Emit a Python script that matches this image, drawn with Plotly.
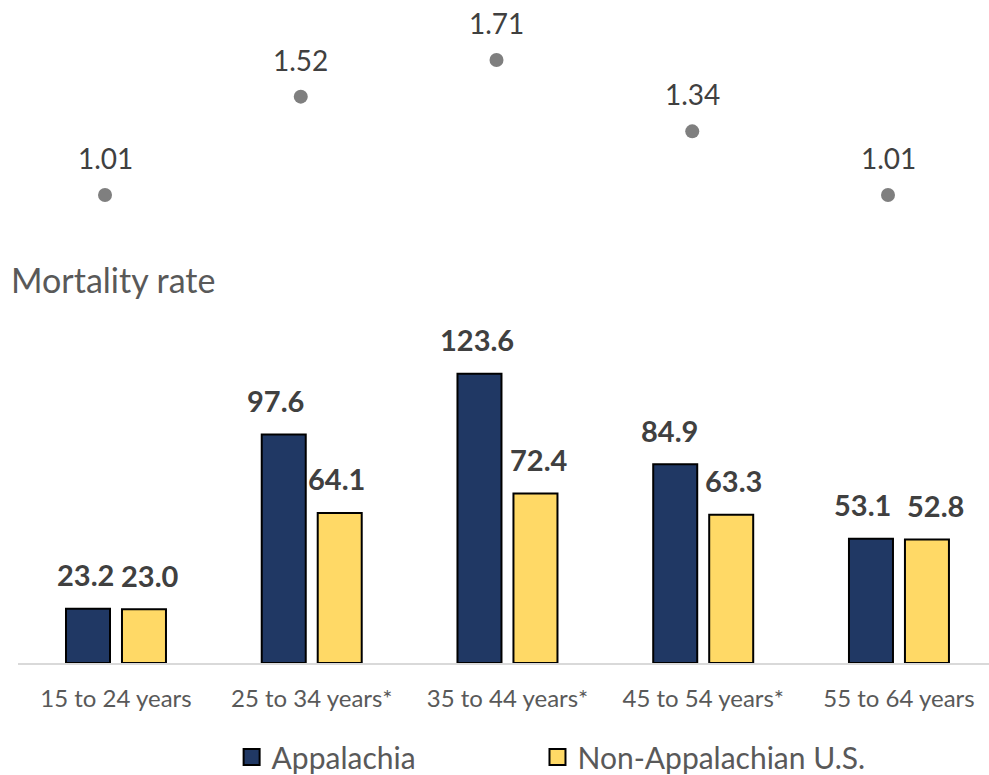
import plotly.graph_objects as go

# Age groups (asterisk marks a significant difference)
categories = ["15 to 24 years", "25 to 34 years*", "35 to 44 years*",
              "45 to 54 years*", "55 to 64 years"]

# Mortality rates per 100,000
appalachia = [23.2, 97.6, 123.6, 84.9, 53.1]
non_appalachia = [23.0, 64.1, 72.4, 63.3, 52.8]

# Rate ratio, Appalachia vs. non-Appalachian U.S.
ratios = [1.01, 1.52, 1.71, 1.34, 1.01]

# Horizontal pixel nudges for the value labels, so neighbours don't collide
nudge_app = [-2, -8, -2, -6, -8]
nudge_non = [6, -3, 4, 2, 9]

NAVY = "#203864"
GOLD = "#FFD966"
GRAY_TXT = "#595959"
DARK_TXT = "#404040"
FONT = "Lato, 'Open Sans', sans-serif"

W, H = 989, 775
X_RANGE = [-0.5006, 4.46]
BAR_OFFSET = 28  # px from category centre to each bar centre

fig = go.Figure()

series = [("Appalachia", appalachia, NAVY, "legend"),
          ("Non-Appalachian U.S.", non_appalachia, GOLD, "legend2")]
for name, vals, color, _ in series:
    fig.add_trace(go.Bar(
        name=name, x=categories, y=vals,
        marker=dict(color=color, line=dict(color="#000000", width=2)),
        xaxis="x", yaxis="y", showlegend=False,
    ))

# Legend entries with a larger square swatch
for name, vals, color, leg in series:
    fig.add_trace(go.Scatter(
        name=name, x=[None], y=[None], mode="markers",
        marker=dict(symbol="square", size=16, color=color,
                    line=dict(color="#000000", width=2)),
        xaxis="x", yaxis="y", showlegend=True, legend=leg,
    ))

# Rate ratio dots in the upper panel
fig.add_trace(go.Scatter(
    x=categories, y=ratios, mode="markers",
    marker=dict(color="#7F7F7F", size=14),
    showlegend=False, hoverinfo="skip",
    xaxis="x2", yaxis="y2",
))

annotations = []
# Bar value labels
for cat, a, n, da, dn in zip(categories, appalachia, non_appalachia, nudge_app, nudge_non):
    for val, shift in ((a, -BAR_OFFSET + da), (n, BAR_OFFSET + dn)):
        annotations.append(dict(
            x=cat, y=val, xref="x", yref="y", text=f"<b>{val:.1f}</b>",
            showarrow=False, xshift=shift, yshift=34, yanchor="middle",
            font=dict(family=FONT, size=29, color=DARK_TXT),
        ))
# Ratio labels
for cat, r in zip(categories, ratios):
    annotations.append(dict(
        x=cat, y=r, xref="x2", yref="y2", text=f"{r:.2f}",
        showarrow=False, yshift=37, yanchor="middle",
        font=dict(family=FONT, size=28, color=DARK_TXT),
    ))
# Panel title
annotations.append(dict(
    x=-9 / 971, y=(H - 279) / H, xref="paper", yref="paper",
    text="Mortality rate", showarrow=False, xanchor="left", yanchor="middle",
    font=dict(family=FONT, size=34, color=GRAY_TXT),
))

legend_style = dict(
    orientation="h", xanchor="left", y=(H - 757) / H, yanchor="middle",
    font=dict(family=FONT, size=30, color=GRAY_TXT),
    bgcolor="rgba(0,0,0,0)", itemsizing="trace",
)

fig.update_layout(
    width=W, height=H,
    margin=dict(l=18, r=0, t=0, b=0, autoexpand=False),
    paper_bgcolor="white", plot_bgcolor="white",
    barmode="group", bargap=0.428, bargroupgap=0.214,
    font=dict(family=FONT, color=GRAY_TXT),
    xaxis=dict(
        type="category", range=X_RANGE, anchor="y",
        showline=True, linecolor="#D9D9D9", linewidth=2,
        showgrid=False, zeroline=False,
        ticks="outside", ticklen=13, tickcolor="rgba(0,0,0,0)",
        tickfont=dict(family=FONT, size=24, color=GRAY_TXT),
    ),
    yaxis=dict(
        domain=[(H - 663) / H, (H - 300) / H], range=[0, 155.1],
        visible=False, showgrid=False, zeroline=False,
    ),
    xaxis2=dict(
        type="category", range=[X_RANGE[0] + 0.056, X_RANGE[1] + 0.056],
        anchor="y2", visible=False, showgrid=False,
    ),
    yaxis2=dict(
        domain=[(H - 240) / H, 1.0], range=[0.7767, 2.021],
        anchor="x2", visible=False, showgrid=False, zeroline=False,
    ),
    legend=dict(x=0.22, **legend_style),
    legend2=dict(x=0.535, **legend_style),
    annotations=annotations,
    showlegend=True,
)

fig.write_html("out.html")
